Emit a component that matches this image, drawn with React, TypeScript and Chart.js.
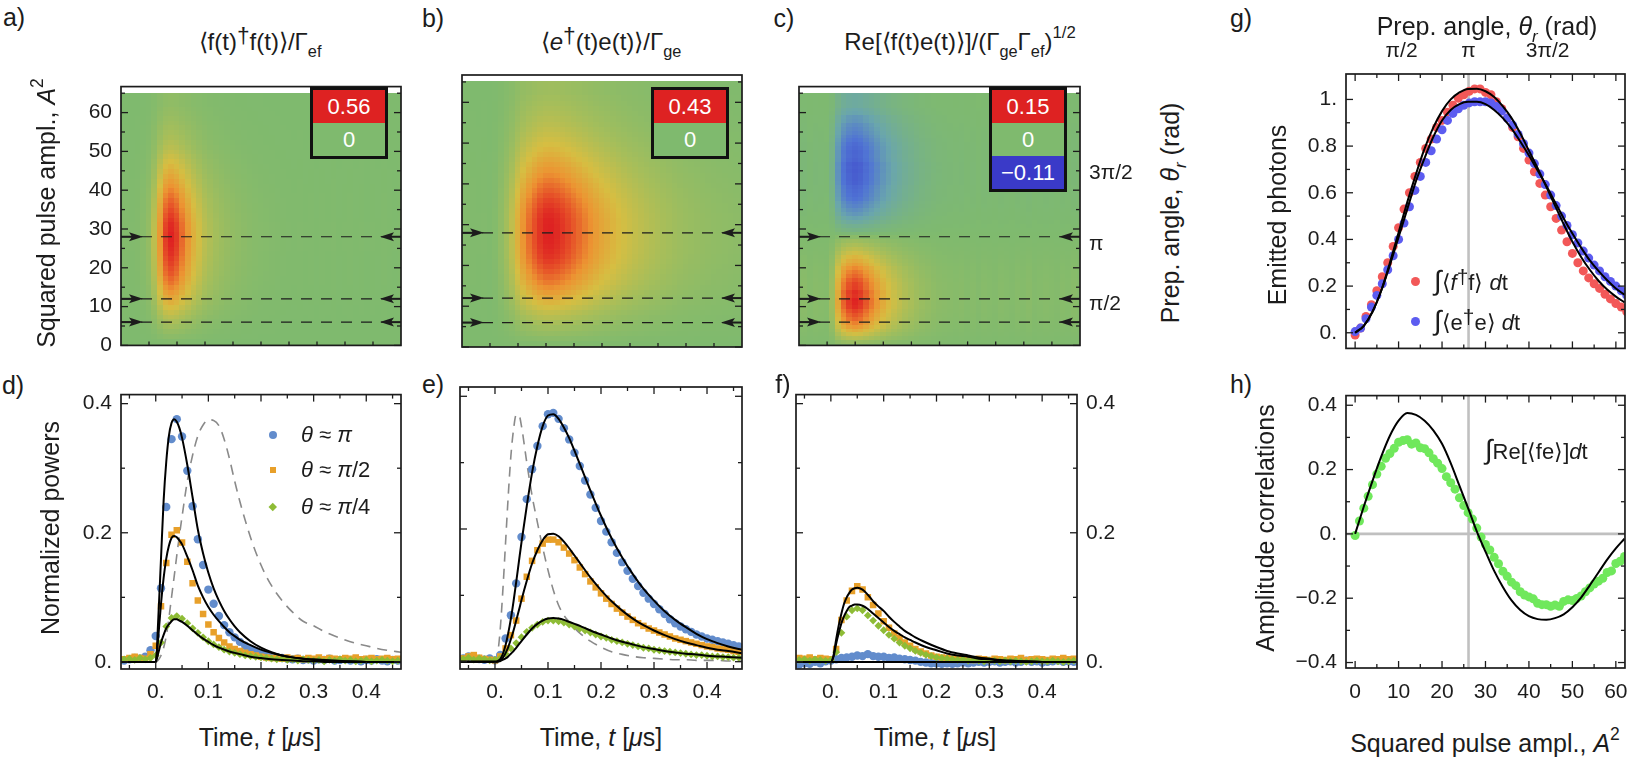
import React, { useEffect, useRef } from "react";
import { Chart, registerables } from "chart.js";

Chart.register(...registerables);

const FONT = "'Liberation Sans', Arial, Helvetica, sans-serif";
const INK = "#1c1c1c";

// ---------- measured time traces (time in µs) ----------
const traceTime = [-0.06, -0.05, -0.04, -0.03, -0.02, -0.01, 0, 0.01, 0.02, 0.03, 0.04, 0.05, 0.06, 0.07, 0.08, 0.09, 0.1, 0.11, 0.12, 0.13, 0.14, 0.15, 0.16, 0.17, 0.18, 0.19, 0.2, 0.21, 0.22, 0.23, 0.24, 0.25, 0.26, 0.27, 0.28, 0.29, 0.3, 0.31, 0.32, 0.33, 0.34, 0.35, 0.36, 0.37, 0.38, 0.39, 0.4, 0.41, 0.42, 0.43, 0.44, 0.45, 0.46];

// f-mode powers (panel d)
const dBlue = [0.002, 0.004, 0.006, 0.005, 0.008, 0.018, 0.04, 0.114, 0.24, 0.345, 0.376, 0.349, 0.296, 0.241, 0.19, 0.15, 0.112, 0.09, 0.071, 0.057, 0.046, 0.038, 0.031, 0.025, 0.02, 0.016, 0.013, 0.011, 0.009, 0.007, 0.006, 0.005, 0.004, 0.005, 0.003, 0.004, 0.002, 0.004, 0.003, 0.005, 0.002, 0.003, 0.004, 0.002, 0.003, 0.001, 0.003, 0.002, 0.004, 0.002, 0.001, 0.003, 0.002];
const dOrange = [0.004, 0.006, 0.008, 0.006, 0.005, 0.012, 0.025, 0.086, 0.153, 0.197, 0.204, 0.185, 0.155, 0.122, 0.095, 0.074, 0.058, 0.046, 0.037, 0.03, 0.024, 0.02, 0.017, 0.014, 0.012, 0.01, 0.008, 0.007, 0.006, 0.006, 0.005, 0.007, 0.005, 0.006, 0.004, 0.006, 0.005, 0.007, 0.004, 0.006, 0.005, 0.004, 0.006, 0.005, 0.007, 0.004, 0.005, 0.006, 0.004, 0.005, 0.006, 0.004, 0.005];
const dGreen = [0.004, 0.005, 0.003, 0.006, 0.004, 0.006, 0.01, 0.03, 0.055, 0.068, 0.071, 0.067, 0.06, 0.052, 0.045, 0.038, 0.032, 0.027, 0.023, 0.019, 0.016, 0.014, 0.012, 0.01, 0.009, 0.008, 0.007, 0.006, 0.005, 0.004, 0.005, 0.003, 0.004, 0.002, 0.004, 0.003, 0.002, 0.003, 0.001, 0.003, 0.002, 0.004, 0.002, 0.003, 0.001, 0.002, 0.003, 0.001, 0.002, 0.003, 0.002, 0.001, 0.002];

// e-mode powers (panel e)
const eBlue = [0.005, 0.008, 0.006, 0.004, 0.003, 0.005, 0.002, 0.01, 0.035, 0.07, 0.118, 0.188, 0.245, 0.29, 0.325, 0.355, 0.373, 0.375, 0.366, 0.352, 0.335, 0.315, 0.295, 0.273, 0.252, 0.232, 0.212, 0.196, 0.18, 0.164, 0.15, 0.137, 0.125, 0.114, 0.104, 0.095, 0.087, 0.079, 0.072, 0.064, 0.058, 0.053, 0.049, 0.045, 0.041, 0.038, 0.035, 0.033, 0.031, 0.029, 0.027, 0.025, 0.023];
const eOrange = [0.005, 0.008, 0.01, 0.006, 0.004, 0.003, 0.002, 0.008, 0.02, 0.04, 0.062, 0.095, 0.128, 0.152, 0.168, 0.178, 0.184, 0.184, 0.18, 0.172, 0.163, 0.153, 0.142, 0.132, 0.121, 0.112, 0.103, 0.095, 0.087, 0.08, 0.074, 0.068, 0.063, 0.058, 0.054, 0.05, 0.047, 0.044, 0.041, 0.038, 0.035, 0.033, 0.031, 0.029, 0.027, 0.025, 0.023, 0.022, 0.02, 0.019, 0.018, 0.016, 0.015];
const eGreen = [0.004, 0.006, 0.003, 0.005, 0.004, 0.002, 0.003, 0.005, 0.012, 0.02, 0.028, 0.037, 0.045, 0.051, 0.056, 0.06, 0.062, 0.062, 0.061, 0.059, 0.056, 0.053, 0.05, 0.047, 0.044, 0.041, 0.038, 0.036, 0.033, 0.031, 0.029, 0.027, 0.025, 0.023, 0.021, 0.02, 0.018, 0.017, 0.016, 0.015, 0.014, 0.013, 0.012, 0.011, 0.01, 0.01, 0.009, 0.008, 0.008, 0.007, 0.007, 0.006, 0.006];

// amplitude correlations (panel f)
const fBlue = [-0.004, -0.002, -0.003, 0, -0.002, 0.001, 0.002, 0.004, 0.006, 0.007, 0.008, 0.01, 0.009, 0.012, 0.009, 0.008, 0.008, 0.006, 0.007, 0.005, 0.004, 0.003, 0.002, 0, -0.001, -0.002, -0.002, -0.003, -0.002, -0.003, -0.002, -0.001, -0.002, -0.001, 0, -0.001, 0, 0.001, -0.001, 0, 0.001, -0.001, 0, 0.002, 0, 0.001, -0.001, 0, 0.001, 0.002, 0, 0.001, 0];
const fOrange = [0.006, 0.005, 0.007, 0.004, 0.006, 0.005, 0.004, 0.02, 0.065, 0.095, 0.11, 0.117, 0.112, 0.1, 0.088, 0.075, 0.063, 0.053, 0.044, 0.037, 0.03, 0.025, 0.02, 0.016, 0.013, 0.01, 0.008, 0.007, 0.006, 0.005, 0.006, 0.004, 0.005, 0.003, 0.005, 0.004, 0.003, 0.005, 0.004, 0.003, 0.005, 0.004, 0.006, 0.003, 0.004, 0.005, 0.004, 0.003, 0.005, 0.004, 0.006, 0.004, 0.005];
const fGreen = [0.003, 0.004, 0.002, 0.004, 0.003, 0.002, 0.003, 0.015, 0.045, 0.07, 0.08, 0.083, 0.08, 0.072, 0.064, 0.056, 0.049, 0.042, 0.036, 0.03, 0.025, 0.021, 0.017, 0.014, 0.011, 0.009, 0.007, 0.006, 0.005, 0.004, 0.003, 0.004, 0.002, 0.003, 0.002, 0.001, 0.002, 0.002, 0.001, 0.002, 0.001, 0.002, 0.001, 0, 0.001, 0.002, 0.001, 0.001, 0.002, 0.001, 0, 0.001, 0.002];

// ---------- model curves ----------
const fitTime = [-0.066, 0, 0.005, 0.01, 0.015, 0.02, 0.025, 0.03, 0.035, 0.04, 0.045, 0.05, 0.06, 0.07, 0.08, 0.09, 0.1, 0.11, 0.12, 0.13, 0.14, 0.15, 0.16, 0.18, 0.2, 0.22, 0.24, 0.26, 0.28, 0.3, 0.32, 0.34, 0.36, 0.38, 0.4, 0.42, 0.44, 0.466];
const dFitBlue = [0, 0, 0.07, 0.16, 0.25, 0.31, 0.35, 0.37, 0.376, 0.372, 0.362, 0.347, 0.305, 0.255, 0.205, 0.168, 0.138, 0.114, 0.095, 0.079, 0.066, 0.055, 0.046, 0.032, 0.022, 0.015, 0.01, 0.007, 0.005, 0.003, 0.002, 0.001, 0.001, 0, 0, 0, 0, 0];
const dFitOrange = [0, 0, 0.04, 0.09, 0.13, 0.16, 0.18, 0.192, 0.195, 0.193, 0.188, 0.182, 0.163, 0.142, 0.118, 0.1, 0.085, 0.073, 0.063, 0.054, 0.046, 0.04, 0.034, 0.026, 0.019, 0.014, 0.01, 0.007, 0.005, 0.004, 0.003, 0.002, 0.001, 0.001, 0, 0, 0, 0];
const dFitGreen = [0, 0, 0.014, 0.03, 0.042, 0.052, 0.058, 0.063, 0.066, 0.066, 0.064, 0.062, 0.056, 0.049, 0.042, 0.036, 0.031, 0.026, 0.022, 0.019, 0.016, 0.014, 0.012, 0.008, 0.006, 0.004, 0.003, 0.002, 0.001, 0.001, 0, 0, 0, 0, 0, 0, 0, 0];
const dReference = [0, 0, 0.003, 0.01, 0.022, 0.04, 0.068, 0.1, 0.132, 0.165, 0.196, 0.225, 0.28, 0.32, 0.35, 0.367, 0.375, 0.374, 0.366, 0.345, 0.315, 0.28, 0.248, 0.193, 0.15, 0.118, 0.095, 0.077, 0.063, 0.056, 0.047, 0.04, 0.034, 0.029, 0.025, 0.021, 0.018, 0.015];
const eFitBlue = [0, 0, 0.001, 0.004, 0.012, 0.025, 0.043, 0.065, 0.091, 0.12, 0.15, 0.18, 0.235, 0.285, 0.325, 0.355, 0.371, 0.373, 0.366, 0.353, 0.337, 0.318, 0.298, 0.258, 0.22, 0.186, 0.157, 0.132, 0.11, 0.092, 0.076, 0.063, 0.052, 0.042, 0.034, 0.028, 0.023, 0.018];
const eFitOrange = [0, 0, 0.0005, 0.002, 0.006, 0.013, 0.022, 0.034, 0.047, 0.062, 0.077, 0.093, 0.122, 0.148, 0.168, 0.183, 0.192, 0.193, 0.189, 0.181, 0.171, 0.16, 0.149, 0.127, 0.108, 0.091, 0.077, 0.065, 0.055, 0.047, 0.04, 0.034, 0.029, 0.025, 0.021, 0.018, 0.016, 0.013];
const eFitGreen = [0, 0, 0, 0.001, 0.003, 0.005, 0.008, 0.012, 0.016, 0.021, 0.026, 0.031, 0.041, 0.05, 0.057, 0.062, 0.065, 0.066, 0.065, 0.063, 0.06, 0.057, 0.054, 0.047, 0.041, 0.035, 0.03, 0.026, 0.022, 0.019, 0.016, 0.014, 0.012, 0.011, 0.009, 0.008, 0.007, 0.006];
const eReference = [0, 0, 0.012, 0.05, 0.11, 0.18, 0.25, 0.31, 0.35, 0.372, 0.372, 0.355, 0.3, 0.25, 0.21, 0.172, 0.138, 0.108, 0.085, 0.07, 0.06, 0.051, 0.043, 0.031, 0.022, 0.015, 0.011, 0.008, 0.006, 0.005, 0.004, 0.003, 0.003, 0.002, 0.002, 0.002, 0.001, 0.001];
const fFitOrange = [0, 0, 0.01, 0.035, 0.057, 0.075, 0.09, 0.1, 0.107, 0.112, 0.114, 0.115, 0.112, 0.104, 0.094, 0.086, 0.079, 0.07, 0.062, 0.055, 0.048, 0.043, 0.038, 0.03, 0.023, 0.017, 0.013, 0.01, 0.007, 0.005, 0.003, 0.002, 0.001, 0.001, 0, 0, 0, 0];
const fFitGreen = [0, 0, 0.008, 0.028, 0.045, 0.06, 0.071, 0.079, 0.085, 0.087, 0.089, 0.089, 0.087, 0.082, 0.075, 0.068, 0.061, 0.054, 0.048, 0.043, 0.038, 0.034, 0.03, 0.023, 0.018, 0.013, 0.01, 0.008, 0.005, 0.004, 0.002, 0.001, 0.001, 0, 0, 0, 0, 0];
const flatFitTime = [-0.066, 0.466];
const fFitBlue = [0, 0];

// ---------- integrated quantities vs squared pulse amplitude ----------
const gA2 = [0, 1.25, 2.5, 3.75, 5, 6.25, 7.5, 8.75, 10, 11.25, 12.5, 13.75, 15, 16.25, 17.5, 18.75, 20, 21.25, 22.5, 23.75, 25, 26.25, 27.5, 28.75, 30, 31.25, 32.5, 33.75, 35, 36.25, 37.5, 38.75, 40, 41.25, 42.5, 43.75, 45, 46.25, 47.5, 48.75, 50, 51.25, 52.5, 53.75, 55, 56.25, 57.5, 58.75, 60, 61.25, 62.5];
const gRed = [-0.01, 0.02, 0.07, 0.12, 0.18, 0.24, 0.3, 0.37, 0.45, 0.53, 0.6, 0.67, 0.73, 0.79, 0.83, 0.88, 0.91, 0.945, 0.975, 1.005, 1.02, 1.035, 1.045, 1.045, 1.03, 1.02, 0.99, 0.96, 0.92, 0.88, 0.84, 0.79, 0.74, 0.69, 0.64, 0.59, 0.54, 0.49, 0.44, 0.39, 0.34, 0.3, 0.265, 0.235, 0.21, 0.19, 0.165, 0.145, 0.125, 0.11, 0.09];
const gBlue = [0.005, 0.02, 0.06, 0.11, 0.16, 0.21, 0.27, 0.33, 0.4, 0.47, 0.54, 0.61, 0.67, 0.73, 0.78, 0.83, 0.87, 0.91, 0.94, 0.96, 0.975, 0.985, 0.99, 0.99, 0.99, 0.985, 0.97, 0.95, 0.92, 0.89, 0.85, 0.81, 0.77, 0.725, 0.68, 0.635, 0.59, 0.545, 0.5, 0.46, 0.42, 0.385, 0.35, 0.32, 0.29, 0.265, 0.24, 0.22, 0.2, 0.18, 0.16];
const gFitA2 = [0, 2, 4, 6, 8, 10, 12, 14, 16, 18, 20, 22, 24, 26, 28, 30, 32, 34, 36, 38, 40, 42, 44, 46, 48, 50, 52, 54, 56, 58, 60, 62];
const gFitRed = [0, 0.03, 0.09, 0.18, 0.3, 0.43, 0.56, 0.68, 0.79, 0.88, 0.95, 1.0, 1.03, 1.045, 1.046, 1.035, 1.01, 0.97, 0.92, 0.855, 0.78, 0.705, 0.625, 0.545, 0.465, 0.39, 0.325, 0.27, 0.223, 0.185, 0.155, 0.13];
const gFitBlue = [0, 0.03, 0.09, 0.18, 0.29, 0.41, 0.53, 0.65, 0.75, 0.84, 0.91, 0.955, 0.98, 0.99, 0.99, 0.98, 0.955, 0.92, 0.875, 0.82, 0.76, 0.695, 0.63, 0.56, 0.49, 0.425, 0.365, 0.31, 0.265, 0.225, 0.19, 0.163];
const hA2 = [0, 1, 2, 3, 4, 5, 6, 7, 8, 9, 10, 11, 12, 13, 14, 15, 16, 17, 18, 19, 20, 21, 22, 23, 24, 25, 26, 27, 28, 29, 30, 31, 32, 33, 34, 35, 36, 37, 38, 39, 40, 41, 42, 43, 44, 45, 46, 47, 48, 49, 50, 51, 52, 53, 54, 55, 56, 57, 58, 59, 60, 61, 62];
const hGreen = [-0.005, 0.04, 0.08, 0.117, 0.153, 0.186, 0.21, 0.235, 0.25, 0.266, 0.285, 0.29, 0.293, 0.279, 0.283, 0.268, 0.265, 0.252, 0.234, 0.22, 0.203, 0.178, 0.159, 0.139, 0.112, 0.088, 0.066, 0.046, 0.018, -0.01, -0.033, -0.05, -0.073, -0.093, -0.116, -0.132, -0.15, -0.161, -0.18, -0.19, -0.196, -0.202, -0.216, -0.22, -0.22, -0.225, -0.221, -0.225, -0.21, -0.205, -0.207, -0.201, -0.193, -0.18, -0.168, -0.156, -0.147, -0.138, -0.12, -0.115, -0.092, -0.085, -0.07];
const hFitA2 = [0, 2, 4, 6, 8, 10, 12, 14, 16, 18, 20, 22, 24, 26, 28, 30, 32, 34, 36, 38, 40, 42, 44, 46, 48, 50, 52, 54, 56, 58, 60, 62];
const hFit = [0, 0.085, 0.165, 0.24, 0.305, 0.352, 0.376, 0.37, 0.352, 0.322, 0.28, 0.22, 0.15, 0.08, 0.008, -0.055, -0.115, -0.165, -0.207, -0.237, -0.256, -0.265, -0.267, -0.262, -0.25, -0.228, -0.198, -0.16, -0.12, -0.08, -0.045, -0.015];

// ---------- reference marks ----------
const markedRowsA2 = [28, 12, 6];
const thetaTickA2 = [10.7, 26.1, 44.3];
const thetaTickText = ["π/2", "π", "3π/2"];
const piLineA2 = 26.1;
const heatScaleA = [0.56, 0];
const heatScaleB = [0.43, 0];
const heatScaleC = [0.15, 0, -0.11];

// ---------- tick positions ----------
const heatYMajor = [0, 10, 20, 30, 40, 50, 60];
const heatYMinor = [5, 15, 25, 35, 45, 55, 65];
const heatXTicks = [0, 0.05, 0.1, 0.15, 0.2, 0.25, 0.3, 0.35, 0.4];
const traceXMajor = [0, 0.1, 0.2, 0.3, 0.4];
const traceXMinor = [-0.05, 0.05, 0.15, 0.25, 0.35, 0.45];
const traceYMajor = [0, 0.2, 0.4];
const traceYMinor = [0.1, 0.3];
const a2Major = [0, 10, 20, 30, 40, 50, 60];
const a2Minor = [5, 15, 25, 35, 45, 55];
const gYMajor = [0, 0.2, 0.4, 0.6, 0.8, 1];
const gYMinor = [0.1, 0.3, 0.5, 0.7, 0.9];
const hYMajor = [-0.4, -0.2, 0, 0.2, 0.4];
const hYMinor = [-0.3, -0.1, 0.1, 0.3];

// ---------- colours ----------
const C_BLUE = "rgb(98,140,204)";
const C_ORANGE = "rgb(232,160,42)";
const C_GREEN = "rgb(142,188,54)";
const C_RED_PT = "rgb(242,88,88)";
const C_BLUE_PT = "rgb(92,92,240)";
const C_LIME_PT = "rgb(112,232,92)";
const C_GUIDE = "rgb(192,192,192)";
const POS_STOPS = [[0, 127, 186, 110], [0.2, 166, 190, 90], [0.42, 214, 190, 66], [0.66, 236, 148, 50], [0.86, 230, 80, 40], [1, 222, 34, 34]];
const NEG_STOPS = [[0, 127, 186, 110], [0.3, 106, 166, 172], [0.6, 80, 116, 212], [1, 58, 58, 200]];

function heatColor(v: number) {
  const stops = v >= 0 ? POS_STOPS : NEG_STOPS;
  const a = Math.min(1, Math.abs(v));
  for (let k = 1; k < stops.length; k++) {
    if (a <= stops[k][0]) {
      const [p0, r0, g0, b0] = stops[k - 1];
      const [p1, r1, g1, b1] = stops[k];
      const f = (a - p0) / (p1 - p0);
      return `rgb(${Math.round(r0 + f * (r1 - r0))},${Math.round(g0 + f * (g1 - g0))},${Math.round(b0 + f * (b1 - b0))})`;
    }
  }
  const s = stops[stops.length - 1];
  return `rgb(${s[1]},${s[2]},${s[3]})`;
}

// 2-D map = amplitude profile (rows) x time profile (columns), normalised to the colour range
function outerMap(rowW: number[], colW: number[], signed: boolean) {
  const rMax = Math.max(...rowW);
  const cMax = Math.max(...colW);
  return rowW.map((r) =>
    colW.map((c) => {
      const v = (r / rMax) * (Math.max(0, c) / cMax);
      if (!signed) return Math.min(1, Math.max(0, v));
      return Math.max(-1, Math.min(1, v));
    })
  );
}

const heatA = { xs: traceTime, ys: gA2, vals: outerMap(gRed, dBlue, false) };
const heatB = { xs: traceTime, ys: gA2, vals: outerMap(gBlue, eBlue, false) };
const heatC = { xs: traceTime, ys: hA2, vals: outerMap(hGreen, fOrange, true) };

const cellEdges = (c: number[], lo?: number, hi?: number) => {
  const e: number[] = [lo !== undefined ? lo : c[0] - (c[1] - c[0]) / 2];
  for (let k = 1; k < c.length; k++) e.push((c[k - 1] + c[k]) / 2);
  e.push(hi !== undefined ? hi : c[c.length - 1] + (c[c.length - 1] - c[c.length - 2]) / 2);
  return e;
};

function drawArrow(ctx: CanvasRenderingContext2D, x0: number, x1: number, y: number) {
  const dir = Math.sign(x1 - x0);
  ctx.lineWidth = 2;
  ctx.beginPath();
  ctx.moveTo(x0, y);
  ctx.lineTo(x1 - dir * 6, y);
  ctx.stroke();
  ctx.beginPath();
  ctx.moveTo(x1, y);
  ctx.lineTo(x1 - dir * 14, y - 4.5);
  ctx.lineTo(x1 - dir * 11, y);
  ctx.lineTo(x1 - dir * 14, y + 4.5);
  ctx.closePath();
  ctx.fill();
}

// frame, inward ticks, colour maps, guide lines and marked rows
function makeDecor(spec: any) {
  return {
    id: "decor",
    beforeDatasetsDraw(chart: any) {
      const { ctx, chartArea: a, scales } = chart;
      const xs = scales.x;
      const ys = scales.y;
      ctx.save();
      ctx.beginPath();
      ctx.rect(a.left, a.top, a.right - a.left, a.bottom - a.top);
      ctx.clip();
      if (spec.heat) {
        const h = spec.heat;
        const xe = cellEdges(h.xs);
        const ye = cellEdges(h.ys, 0, 65);
        for (let j = 0; j < h.ys.length; j++) {
          const y0 = ys.getPixelForValue(ye[j]);
          const y1 = ys.getPixelForValue(ye[j + 1]);
          for (let i = 0; i < h.xs.length; i++) {
            const x0 = xs.getPixelForValue(xe[i]);
            const x1 = xs.getPixelForValue(xe[i + 1]);
            ctx.fillStyle = heatColor(h.vals[j][i]);
            ctx.fillRect(Math.floor(x0), Math.floor(y1), Math.ceil(x1 - x0) + 1, Math.ceil(y0 - y1) + 1);
          }
        }
      }
      if (spec.guideX || spec.guideY) {
        ctx.strokeStyle = C_GUIDE;
        ctx.lineWidth = 2.6;
        for (const gx of spec.guideX || []) {
          const px = xs.getPixelForValue(gx);
          ctx.beginPath();
          ctx.moveTo(px, a.top);
          ctx.lineTo(px, a.bottom);
          ctx.stroke();
        }
        for (const gy of spec.guideY || []) {
          const py = ys.getPixelForValue(gy);
          ctx.beginPath();
          ctx.moveTo(a.left, py);
          ctx.lineTo(a.right, py);
          ctx.stroke();
        }
      }
      ctx.restore();
    },
    afterDatasetsDraw(chart: any) {
      const { ctx, chartArea: a, scales } = chart;
      const xs = scales.x;
      const ys = scales.y;
      ctx.save();
      if (spec.rows) {
        ctx.strokeStyle = INK;
        ctx.fillStyle = INK;
        ctx.lineWidth = 1.2;
        ctx.setLineDash([11, 9]);
        for (const r of spec.rows) {
          const py = ys.getPixelForValue(r);
          ctx.beginPath();
          ctx.moveTo(a.left, py);
          ctx.lineTo(a.right, py);
          ctx.stroke();
        }
        ctx.setLineDash([]);
        for (const r of spec.rows) {
          const py = ys.getPixelForValue(r);
          drawArrow(ctx, a.left, a.left + 22, py);
          drawArrow(ctx, a.right, a.right - 21, py);
        }
      }
      ctx.strokeStyle = INK;
      ctx.lineWidth = 1.7;
      ctx.strokeRect(a.left, a.top, a.right - a.left, a.bottom - a.top);
      ctx.lineWidth = 1.3;
      const tickSet = (vals: number[], len: number, horiz: boolean, sides: string[]) => {
        for (const v of vals) {
          const sc = horiz ? xs : ys;
          const p = sc.getPixelForValue(v);
          if (horiz && (p < a.left - 0.5 || p > a.right + 0.5)) continue;
          if (!horiz && (p < a.top - 0.5 || p > a.bottom + 0.5)) continue;
          for (const s of sides) {
            ctx.beginPath();
            if (s === "bottom") { ctx.moveTo(p, a.bottom); ctx.lineTo(p, a.bottom - len); }
            if (s === "top") { ctx.moveTo(p, a.top); ctx.lineTo(p, a.top + len); }
            if (s === "left") { ctx.moveTo(a.left, p); ctx.lineTo(a.left + len, p); }
            if (s === "right") { ctx.moveTo(a.right, p); ctx.lineTo(a.right - len, p); }
            ctx.stroke();
          }
        }
      };
      const t = spec.ticks;
      tickSet(t.xMajor || [], 7, true, t.xSides);
      tickSet(t.xMinor || [], 4, true, t.xSides);
      tickSet(t.yMajor || [], 7, false, t.ySides);
      tickSet(t.yMinor || [], 4, false, t.ySides);
      ctx.restore();
    },
  };
}

type Box = { l: number; t: number; r: number; b: number; ml: number; mt: number; mr: number; mb: number };

const BOX_A: Box = { l: 121, t: 75, r: 401, b: 347, ml: 70, mt: 10, mr: 8, mb: 20 };
const BOX_B: Box = { l: 462, t: 75, r: 742, b: 347, ml: 10, mt: 10, mr: 8, mb: 20 };
const BOX_C: Box = { l: 799, t: 75, r: 1080, b: 347, ml: 10, mt: 10, mr: 60, mb: 20 };
const BOX_D: Box = { l: 121, t: 387, r: 401, b: 669, ml: 70, mt: 14, mr: 8, mb: 45 };
const BOX_E: Box = { l: 460, t: 387, r: 742, b: 669, ml: 10, mt: 14, mr: 8, mb: 45 };
const BOX_F: Box = { l: 796, t: 387, r: 1077, b: 669, ml: 10, mt: 14, mr: 60, mb: 45 };
const BOX_G: Box = { l: 1346, t: 74, r: 1625, b: 355, ml: 75, mt: 40, mr: 15, mb: 15 };
const BOX_H: Box = { l: 1346, t: 388, r: 1625, b: 668, ml: 75, mt: 14, mr: 15, mb: 45 };

const fmtDot = (v: number) => (v === 0 ? "0." : v === 1 ? "1." : v < 0 ? "\u2212" + String(-v) : String(v));
const fmtInt = (v: number) => String(v);

function axis(position: string, min: number, max: number, box: Box, vals: number[], fmt: (v: number, i: number) => string, padding: number) {
  const horiz = position === "bottom" || position === "top";
  const size = position === "left" ? box.ml : position === "right" ? box.mr : position === "top" ? box.mt : box.mb;
  return {
    type: "linear",
    position,
    min,
    max,
    afterFit: (s: any) => {
      if (horiz) s.height = size;
      else s.width = size;
    },
    afterBuildTicks: (s: any) => {
      s.ticks = vals.map((v) => ({ value: v }));
    },
    ticks: {
      display: vals.length > 0,
      callback: (v: number, i: number) => fmt(v, i),
      font: { family: FONT, size: 21 },
      color: INK,
      padding,
      autoSkip: false,
      maxRotation: 0,
      minRotation: 0,
    },
    grid: { display: false, drawTicks: false },
    border: { display: false },
  };
}

function baseOptions(box: Box, scales: any, hasTop: boolean, hasRight: boolean) {
  return {
    responsive: false,
    maintainAspectRatio: false,
    animation: false,
    devicePixelRatio: 1,
    events: [],
    layout: { padding: { left: 0, top: hasTop ? 0 : box.mt, right: hasRight ? 0 : box.mr, bottom: 0 } },
    plugins: { legend: { display: false }, tooltip: { enabled: false } },
    scales,
  };
}

const pts = (xs: number[], ys: number[]) => xs.map((x, i) => ({ x, y: ys[i] }));

const scatterSet = (label: string, data: any[], color: string, style: string, radius: number, order: number) => ({
  label,
  data,
  pointStyle: style,
  pointRadius: radius,
  pointHoverRadius: radius,
  pointBackgroundColor: color,
  pointBorderWidth: 0,
  showLine: false,
  order,
});

const curveSet = (label: string, data: any[], color: string, width: number, dash?: number[]) => ({
  label,
  data,
  showLine: true,
  pointRadius: 0,
  pointHoverRadius: 0,
  borderColor: color,
  borderWidth: width,
  borderDash: dash || [],
  cubicInterpolationMode: "monotone",
  fill: false,
  order: dash ? 5 : 1,
});

function heatConfig(box: Box, heat: any, leftLabels: boolean, thetaRight: boolean) {
  const scales: any = {
    x: axis("bottom", -0.05, 0.45, box, [], fmtInt, 8),
    y: axis("left", 0, 66.7, box, leftLabels ? heatYMajor : [], fmtInt, 9),
  };
  if (thetaRight) scales.y2 = axis("right", 0, 66.7, box, thetaTickA2, (_v, i) => thetaTickText[i], 9);
  return {
    type: "scatter",
    data: { datasets: [] },
    options: baseOptions(box, scales, false, thetaRight),
    plugins: [
      makeDecor({
        heat,
        rows: markedRowsA2,
        ticks: { xMinor: heatXTicks, xSides: ["bottom"], yMajor: heatYMajor, yMinor: heatYMinor, ySides: ["left", "right"] },
      }),
    ],
  };
}

function traceConfig(box: Box, sets: any[], leftLabels: boolean, rightLabels: boolean) {
  const scales: any = {
    x: axis("bottom", -0.066, 0.466, box, traceXMajor, fmtDot, 11),
    y: axis("left", -0.011, 0.414, box, leftLabels ? traceYMajor : [], fmtDot, 9),
  };
  if (rightLabels) scales.y2 = axis("right", -0.011, 0.414, box, traceYMajor, fmtDot, 9);
  return {
    type: "scatter",
    data: { datasets: sets },
    options: baseOptions(box, scales, false, rightLabels),
    plugins: [
      makeDecor({
        ticks: { xMajor: traceXMajor, xMinor: traceXMinor, xSides: ["bottom", "top"], yMajor: traceYMajor, yMinor: traceYMinor, ySides: ["left", "right"] },
      }),
    ],
  };
}

const tracePoints = (b: number[], o: number[], g: number[]) => [
  scatterSet("θ ≈ π", pts(traceTime, b), C_BLUE, "circle", 4.2, 2.3),
  scatterSet("θ ≈ π/2", pts(traceTime, o), C_ORANGE, "rect", 4.6, 2.2),
  scatterSet("θ ≈ π/4", pts(traceTime, g), C_GREEN, "rectRot", 3.9, 2.1),
];

const configD = () =>
  traceConfig(BOX_D, [
    curveSet("e-mode shape", pts(fitTime, dReference), "rgb(138,138,138)", 1.6, [10, 7]),
    ...tracePoints(dBlue, dOrange, dGreen),
    curveSet("model π", pts(fitTime, dFitBlue), "#000", 2),
    curveSet("model π/2", pts(fitTime, dFitOrange), "#000", 2),
    curveSet("model π/4", pts(fitTime, dFitGreen), "#000", 2),
  ], true, false);

const configE = () =>
  traceConfig(BOX_E, [
    curveSet("f-mode shape", pts(fitTime, eReference), "rgb(138,138,138)", 1.6, [10, 7]),
    ...tracePoints(eBlue, eOrange, eGreen),
    curveSet("model π", pts(fitTime, eFitBlue), "#000", 2),
    curveSet("model π/2", pts(fitTime, eFitOrange), "#000", 2),
    curveSet("model π/4", pts(fitTime, eFitGreen), "#000", 2),
  ], false, false);

const configF = () =>
  traceConfig(BOX_F, [
    ...tracePoints(fBlue, fOrange, fGreen),
    curveSet("model π", pts(flatFitTime, fFitBlue), "#000", 2),
    curveSet("model π/2", pts(fitTime, fFitOrange), "#000", 2),
    curveSet("model π/4", pts(fitTime, fFitGreen), "#000", 2),
  ], false, true);

const configG = () => ({
  type: "scatter",
  data: {
    datasets: [
      scatterSet("∫⟨f†f⟩dt", pts(gA2, gRed), C_RED_PT, "circle", 4.5, 2.2),
      scatterSet("∫⟨e†e⟩dt", pts(gA2, gBlue), C_BLUE_PT, "circle", 4.5, 2.1),
      curveSet("model f", pts(gFitA2, gFitRed), "#000", 2),
      curveSet("model e", pts(gFitA2, gFitBlue), "#000", 2),
    ],
  },
  options: baseOptions(BOX_G, {
    x: axis("bottom", -2.1, 62.1, BOX_G, [], fmtInt, 8),
    x2: axis("top", -2.1, 62.1, BOX_G, thetaTickA2, (_v, i) => thetaTickText[i], 10),
    y: axis("left", -0.067, 1.109, BOX_G, gYMajor, fmtDot, 9),
  }, true, false),
  plugins: [
    makeDecor({
      guideX: [piLineA2],
      ticks: { xMajor: a2Major, xMinor: a2Minor, xSides: ["bottom", "top"], yMajor: gYMajor, yMinor: gYMinor, ySides: ["left", "right"] },
    }),
  ],
});

const configH = () => ({
  type: "scatter",
  data: {
    datasets: [
      scatterSet("∫Re[⟨fe⟩]dt", pts(hA2, hGreen), C_LIME_PT, "circle", 4.5, 2),
      curveSet("model", pts(hFitA2, hFit), "#000", 2),
    ],
  },
  options: baseOptions(BOX_H, {
    x: axis("bottom", -2.1, 62.1, BOX_H, a2Major, fmtInt, 12),
    y: axis("left", -0.417, 0.43, BOX_H, hYMajor, fmtDot, 9),
  }, false, false),
  plugins: [
    makeDecor({
      guideX: [piLineA2],
      guideY: [0],
      ticks: { xMajor: a2Major, xMinor: a2Minor, xSides: ["bottom", "top"], yMajor: hYMajor, yMinor: hYMinor, ySides: ["left", "right"] },
    }),
  ],
});

function ChartPanel({ box, make }: { box: Box; make: () => any }) {
  const ref = useRef<HTMLCanvasElement | null>(null);
  useEffect(() => {
    if (!ref.current) return;
    const chart = new Chart(ref.current, make());
    return () => chart.destroy();
  }, []);
  const w = box.r - box.l + box.ml + box.mr;
  const h = box.b - box.t + box.mt + box.mb;
  return (
    <canvas
      ref={ref}
      width={w}
      height={h}
      style={{ position: "absolute", left: box.l - box.ml, top: box.t - box.mt, width: w, height: h }}
    />
  );
}

function Txt({ x, y, size = 25, rot = false, anchor = "center", children, style }: any) {
  const tx = anchor === "left" ? "0" : anchor === "right" ? "-100%" : "-50%";
  return (
    <div
      style={{
        position: "absolute",
        left: x,
        top: y,
        fontSize: size,
        lineHeight: 1,
        whiteSpace: "nowrap",
        transform: `translate(${tx},-50%)${rot ? " rotate(-90deg)" : ""}`,
        ...style,
      }}
    >
      {children}
    </div>
  );
}

const Sup = ({ children, s = 0.7, top = "-0.7em" }: any) => (
  <span style={{ fontSize: `${s}em`, position: "relative", top }}>{children}</span>
);
const Sub = ({ children }: any) => (
  <span style={{ fontSize: "0.68em", position: "relative", top: "0.4em" }}>{children}</span>
);
const I = ({ children }: any) => <span style={{ fontStyle: "italic" }}>{children}</span>;

const fmtKey = (v: number) => (v === 0 ? "0" : v < 0 ? "\u2212" + String(-v) : String(v));

function HeatKey({ x, y, values }: { x: number; y: number; values: number[] }) {
  return (
    <div style={{ position: "absolute", left: x, top: y, width: 78, border: "3px solid #111", boxSizing: "border-box" }}>
      {values.map((v, i) => (
        <div
          key={i}
          style={{
            height: 33,
            background: heatColor(v > 0 ? 1 : v < 0 ? -1 : 0),
            color: "#fff",
            fontSize: 22,
            display: "flex",
            alignItems: "center",
            justifyContent: "center",
          }}
        >
          {fmtKey(v)}
        </div>
      ))}
    </div>
  );
}

function Marker({ x, y, shape, color, size }: any) {
  const common: any = { position: "absolute", background: color };
  if (shape === "circle") return <div style={{ ...common, left: x - size / 2, top: y - size / 2, width: size, height: size, borderRadius: "50%" }} />;
  if (shape === "square") return <div style={{ ...common, left: x - size / 2, top: y - size / 2, width: size, height: size }} />;
  return <div style={{ ...common, left: x - size / 2, top: y - size / 2, width: size, height: size, transform: "rotate(45deg)" }} />;
}

export default function App() {
  return (
    <div
      style={{
        position: "absolute",
        left: 0,
        top: 0,
        width: 1648,
        height: 765,
        background: "#fff",
        overflow: "hidden",
        fontFamily: FONT,
        color: INK,
      }}
    >
      <ChartPanel box={BOX_A} make={() => heatConfig(BOX_A, heatA, true, false)} />
      <ChartPanel box={BOX_B} make={() => heatConfig(BOX_B, heatB, false, false)} />
      <ChartPanel box={BOX_C} make={() => heatConfig(BOX_C, heatC, false, true)} />
      <ChartPanel box={BOX_D} make={configD} />
      <ChartPanel box={BOX_E} make={configE} />
      <ChartPanel box={BOX_F} make={configF} />
      <ChartPanel box={BOX_G} make={configG} />
      <ChartPanel box={BOX_H} make={configH} />

      <HeatKey x={310} y={87} values={heatScaleA} />
      <HeatKey x={651} y={87} values={heatScaleB} />
      <HeatKey x={989} y={87} values={heatScaleC} />

      {/* panel letters */}
      <Txt x={14} y={17}>a)</Txt>
      <Txt x={433} y={18}>b)</Txt>
      <Txt x={784} y={18}>c)</Txt>
      <Txt x={1241} y={18}>g)</Txt>
      <Txt x={13} y={385}>d)</Txt>
      <Txt x={433} y={384}>e)</Txt>
      <Txt x={783} y={384}>f)</Txt>
      <Txt x={1241} y={384}>h)</Txt>

      {/* map headings */}
      <Txt x={260} y={42} size={24}>
        ⟨f(t)<Sup s={0.95} top="-0.3em">†</Sup>f(t)⟩/Γ<Sub>ef</Sub>
      </Txt>
      <Txt x={611} y={42} size={24}>
        ⟨<I>e</I><Sup s={0.95} top="-0.3em">†</Sup>(t)e(t)⟩/Γ<Sub>ge</Sub>
      </Txt>
      <Txt x={960} y={42} size={24}>
        Re[⟨f(t)e(t)⟩]/(Γ<Sub>ge</Sub>Γ<Sub>ef</Sub>)<Sup>1/2</Sup>
      </Txt>

      {/* axis titles */}
      <Txt x={46} y={213} rot>
        Squared pulse ampl., <I>A</I><Sup>2</Sup>
      </Txt>
      <Txt x={50} y={528} rot>Normalized powers</Txt>
      <Txt x={260} y={737}>
        Time, <I>t</I> [<I>μ</I>s]
      </Txt>
      <Txt x={601} y={737}>
        Time, <I>t</I> [<I>μ</I>s]
      </Txt>
      <Txt x={935} y={737}>
        Time, <I>t</I> [<I>μ</I>s]
      </Txt>
      <Txt x={1170} y={213} rot>
        Prep. angle, <I>θ<Sub>r</Sub></I> (rad)
      </Txt>
      <Txt x={1487} y={26}>
        Prep. angle, <I>θ<Sub>r</Sub></I> (rad)
      </Txt>
      <Txt x={1277} y={215} rot>Emitted photons</Txt>
      <Txt x={1265} y={528} rot>Amplitude correlations</Txt>
      <Txt x={1485} y={743}>
        Squared pulse ampl., <I>A</I><Sup>2</Sup>
      </Txt>

      {/* legend of panel d */}
      <Marker x={273} y={435} shape="circle" color={C_BLUE} size={8.4} />
      <Marker x={273} y={470} shape="square" color={C_ORANGE} size={6.5} />
      <Marker x={273} y={507} shape="diamond" color={C_GREEN} size={5.5} />
      <Txt x={301} y={435} size={22} anchor="left">
        <I>θ</I> ≈ <I>π</I>
      </Txt>
      <Txt x={301} y={470} size={22} anchor="left">
        <I>θ</I> ≈ <I>π</I>/2
      </Txt>
      <Txt x={301} y={507} size={22} anchor="left">
        <I>θ</I> ≈ <I>π</I>/4
      </Txt>

      {/* legend of panel g */}
      <Marker x={1415} y={281} shape="circle" color={C_RED_PT} size={9} />
      <Marker x={1415} y={321} shape="circle" color={C_BLUE_PT} size={9} />
      <Txt x={1434} y={281} size={22} anchor="left">
        <span style={{ fontSize: "1.25em" }}>∫</span>⟨<I>f</I><Sup s={0.95} top="-0.3em">†</Sup>f⟩ <I>d</I>t
      </Txt>
      <Txt x={1434} y={321} size={22} anchor="left">
        <span style={{ fontSize: "1.25em" }}>∫</span>⟨e<Sup s={0.95} top="-0.3em">†</Sup>e⟩ <I>d</I>t
      </Txt>

      {/* legend of panel h */}
      <Txt x={1485} y={450} size={22} anchor="left">
        <span style={{ fontSize: "1.25em" }}>∫</span>Re[⟨fe⟩]<I>d</I>t
      </Txt>
    </div>
  );
}
